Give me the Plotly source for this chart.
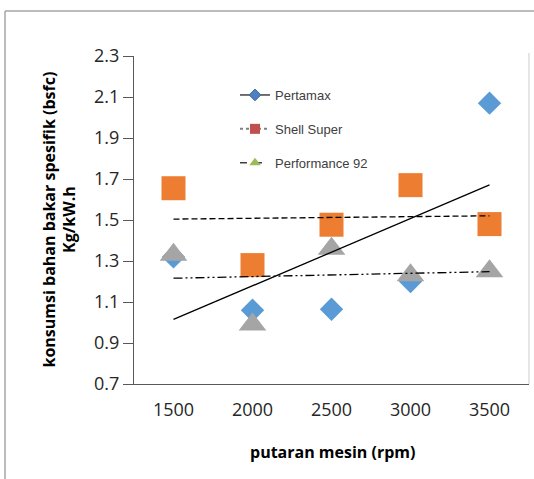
import numpy as np
import plotly.graph_objects as go

rpm = ["1500", "2000", "2500", "3000", "3500"]
pertamax = [1.32, 1.06, 1.065, 1.20, 2.07]
shell_super = [1.655, 1.28, 1.477, 1.67, 1.48]
performance92 = [1.33, 0.99, 1.36, 1.23, 1.25]
y_ticks = [0.7, 0.9, 1.1, 1.3, 1.5, 1.7, 1.9, 2.1, 2.3]

idx = np.arange(1, len(rpm) + 1)


def trend(vals):
    m, b = np.polyfit(idx, vals, 1)
    return [m * i + b for i in idx]


fig = go.Figure()

# data markers
fig.add_trace(go.Scatter(x=rpm, y=pertamax, mode="markers", showlegend=False,
                         marker=dict(symbol="diamond", size=18, color="#5B9BD5")))
fig.add_trace(go.Scatter(x=rpm, y=shell_super, mode="markers", showlegend=False,
                         marker=dict(symbol="square", size=24, color="#ED7D31")))
fig.add_trace(go.Scatter(x=rpm, y=performance92, mode="markers", showlegend=False,
                         marker=dict(symbol="triangle-up", size=24, color="#A5A5A5")))

# trendlines
fig.add_trace(go.Scatter(x=rpm, y=trend(pertamax), mode="lines", showlegend=False,
                         line=dict(color="black", width=1.3)))
fig.add_trace(go.Scatter(x=rpm, y=trend(shell_super), mode="lines", showlegend=False,
                         line=dict(color="black", width=1.3, dash="6px,3px")))
fig.add_trace(go.Scatter(x=rpm, y=trend(performance92), mode="lines", showlegend=False,
                         line=dict(color="black", width=1.3, dash="9px,3px,2px,3px,2px,3px")))

# legend entries
fig.add_trace(go.Scatter(x=[None], y=[None], mode="lines+markers", name="Pertamax",
                         legendgroup="a",
                         line=dict(color="#404040", width=1.5),
                         marker=dict(symbol="diamond", size=9, color="#4F81BD",
                                     line=dict(color="#3A6BA5", width=1))))
fig.add_trace(go.Scatter(x=[None], y=[None], mode="lines+markers", name="Shell Super",
                         legendgroup="b",
                         line=dict(color="#808080", width=2, dash="dot"),
                         marker=dict(symbol="square", size=10, color="#C0504D")))
fig.add_trace(go.Scatter(x=[None], y=[None], mode="lines+markers", name="Performance 92",
                         legendgroup="c",
                         line=dict(color="#404040", width=1.5, dash="7px,8px"),
                         marker=dict(symbol="triangle-up", size=10, color="#9BBB59")))

L, R, T, B = 134, 5, 56, 95
W, H = 534, 479
pw, ph = W - L - R, H - T - B


def px_x(p):
    return (p - L) / pw


def px_y(p):
    return (H - B - p) / ph


frame = "#A6A6A6"
fig.update_layout(
    width=W, height=H,
    margin=dict(l=L, r=R, t=T, b=B),
    paper_bgcolor="white", plot_bgcolor="white",
    font=dict(family="Open Sans", color="#262626"),
    showlegend=True,
    legend=dict(x=px_x(235), y=px_y(80), xanchor="left", yanchor="top",
                bgcolor="rgba(0,0,0,0)", tracegroupgap=14,
                font=dict(family="Liberation Sans Narrow, Arial Narrow, Liberation Sans",
                          size=13, color="#404040")),
    xaxis=dict(type="category", range=[-0.5, 4.5], showgrid=False,
               showline=True, linecolor="#595959", linewidth=1.3,
               ticks="", tickfont=dict(size=18), ticklabelstandoff=9,
               zeroline=False),
    yaxis=dict(range=[0.7, 2.3], tickvals=y_ticks, ticktext=[f"{v:.1f}" for v in y_ticks],
               showgrid=False, showline=True, linecolor="#595959", linewidth=1.3,
               ticks="outside", ticklen=10, tickcolor="#595959", tickwidth=1.3,
               tickfont=dict(size=18), zeroline=False),
    shapes=[
        dict(type="line", xref="paper", yref="paper", x0=1, x1=1, y0=0, y1=px_y(53),
             line=dict(color="#D9D9D9", width=1.3)),
        dict(type="line", xref="paper", yref="paper", x0=px_x(5), x1=px_x(540),
             y0=px_y(11), y1=px_y(11), line=dict(color=frame, width=1.5)),
        dict(type="line", xref="paper", yref="paper", x0=px_x(5), x1=px_x(5),
             y0=px_y(11), y1=px_y(485), line=dict(color=frame, width=1.5)),
    ],
    annotations=[
        dict(text="<b>konsumsi bahan bakar spesifik (bsfc)</b><br><b>Kg/kW.h</b>",
             xref="paper", yref="paper", x=px_x(58.5), y=px_y(220),
             xanchor="center", yanchor="middle", textangle=-90, showarrow=False,
             font=dict(size=16, color="black")),
        dict(text="<b>putaran mesin (rpm)</b>", xref="paper", yref="paper",
             x=px_x(332), y=px_y(452), xanchor="center", yanchor="middle",
             showarrow=False, font=dict(size=16, color="black")),
    ],
)

fig.write_html("out.html")
